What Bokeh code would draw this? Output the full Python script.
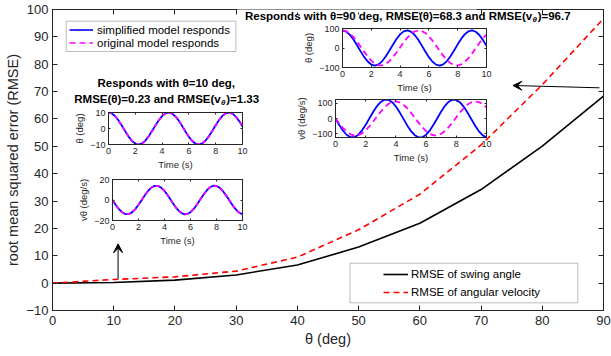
from bokeh.plotting import figure
from bokeh.models import (Range1d, LinearAxis, FixedTicker, Legend, LegendItem, Label,
                          Arrow, VeeHead, BoxAnnotation, Column)
from bokeh.embed import file_html
from bokeh.resources import INLINE

# ---------------- main chart data ----------------
theta_deg = [0, 10, 20, 30, 40, 50, 60, 70, 80, 90]
rmse_angle = [0.0, 0.23, 1.1, 3.0, 6.6, 13.2, 21.9, 34.2, 50.1, 68.3]
rmse_velocity = [0.0, 1.33, 2.3, 4.4, 9.5, 19.5, 32.5, 50.5, 72.5, 96.7]
x_ticks = [0, 10, 20, 30, 40, 50, 60, 70, 80, 90]
y_ticks = [-10, 0, 10, 20, 30, 40, 50, 60, 70, 80, 90, 100]

# ---------------- inset data (responses over time) ----------------
time_s = [0.0, 0.25, 0.5, 0.75, 1.0, 1.25, 1.5, 1.75, 2.0, 2.25, 2.5, 2.75, 3.0, 3.25,
          3.5, 3.75, 4.0, 4.25, 4.5, 4.75, 5.0, 5.25, 5.5, 5.75, 6.0, 6.25, 6.5, 6.75,
          7.0, 7.25, 7.5, 7.75, 8.0, 8.25, 8.5, 8.75, 9.0, 9.25, 9.5, 9.75, 10.0]
theta10_simplified = [10.0, 9.39, 7.65, 4.97, 1.69, -1.79, -5.06, -7.71, -9.43, -10.0, -9.36,
                      -7.58, -4.89, -1.60, 1.89, 5.14, 7.77, 9.46, 10.0, 9.33, 7.52, 4.80,
                      1.50, -1.98, -5.23, -7.83, -9.49, -10.0, -9.29, -7.46, -4.72, -1.41,
                      2.08, 5.31, 7.89, 9.52, 9.99, 9.25, 7.39, 4.63, 1.31]
theta10_original = [10.0, 9.39, 7.66, 4.99, 1.71, -1.76, -5.02, -7.68, -9.41, -10.0, -9.38,
                    -7.63, -4.95, -1.68, 1.81, 5.06, 7.71, 9.43, 10.0, 9.37, 7.60, 4.91,
                    1.63, -1.84, -5.10, -7.74, -9.44, -10.0, -9.35, -7.57, -4.88, -1.60,
                    1.89, 5.13, 7.77, 9.46, 10.0, 9.34, 7.55, 4.84, 1.55]
vel10_simplified = [0.0, -4.8, -9.0, -12.2, -13.8, -13.8, -12.1, -8.9, -4.7, 0.1, 4.9, 9.1,
                    12.2, 13.8, 13.8, 12.0, 8.8, 4.6, -0.3, -5.1, -9.2, -12.3, -13.9, -13.7,
                    -11.9, -8.7, -4.4, 0.4, 5.2, 9.3, 12.4, 13.9, 13.7, 11.9, 8.6, 4.3, -0.5,
                    -5.3, -9.4, -12.4, -13.9]
vel10_original = [0.0, -4.8, -9.0, -12.2, -13.8, -13.8, -12.1, -8.9, -4.6, 0.2, 5.0, 9.2,
                  12.3, 13.8, 13.8, 11.9, 8.7, 4.4, -0.5, -5.2, -9.3, -12.4, -13.8, -13.7,
                  -11.8, -8.5, -4.2, 0.6, 5.4, 9.5, 12.5, 13.9, 13.6, 11.8, 8.4, 4.0, -0.8,
                  -5.6, -9.6, -12.6, -13.9]
theta90_simplified = [90.0, 84.5, 68.8, 44.7, 15.2, -16.1, -45.5, -69.4, -84.8, -90.0, -84.2,
                      -68.3, -44.0, -14.4, 17.0, 46.3, 69.9, 85.1, 90.0, 83.9, 67.7, 43.2,
                      13.5, -17.8, -47.0, -70.5, -85.4, -90.0, -83.6, -67.1, -42.4, -12.6,
                      18.7, 47.8, 71.0, 85.7, 89.9, 83.3, 66.5, 41.7, 11.8]
theta90_original = [90.0, 86.1, 74.6, 56.6, 33.7, 7.8, -18.7, -43.6, -64.7, -80.2, -88.6,
                    -89.3, -82.2, -67.9, -47.7, -23.3, 3.1, 29.3, 52.9, 71.9, 84.6, 89.9,
                    87.3, 77.1, 60.2, 38.0, 12.5, -14.1, -39.5, -61.4, -77.9, -87.7, -89.8,
                    -84.0, -70.9, -51.6, -27.8, -1.6, 24.8, 49.0, 68.9]
vel90_simplified = [0.0, -43.3, -81.3, -109.4, -124.3, -124.1, -108.8, -80.3, -42.1, 1.2,
                    44.4, 82.2, 110.0, 124.5, 123.8, 108.2, 79.4, 40.9, -2.5, -45.6, -83.1,
                    -110.6, -124.7, -123.6, -107.5, -78.4, -39.8, 3.7, 46.7, 84.0, 111.2,
                    124.9, 123.4, 106.9, 77.5, 38.6, -4.9, -47.9, -85.0, -111.8, -125.0]
vel90_original = [0.0, -33.0, -63.2, -87.8, -104.8, -112.6, -110.5, -98.8, -78.5, -51.3,
                  -19.6, 13.8, 46.0, 74.1, 95.8, 109.1, 112.9, 106.8, 91.4, 68.0, 38.6, 5.9,
                  -27.3, -58.2, -84.0, -102.4, -111.9, -111.6, -101.6, -82.6, -56.5, -25.4,
                  7.9, 40.5, 69.6, 92.6, 107.5, 113.0, 108.6, 94.8, 72.6]
time_ticks = [0, 2, 4, 6, 8, 10]
theta10_ticks = [-10, 0, 10]
vel10_ticks = [-20, 0, 20]
big_ticks = [-100, 0, 100]

FONT = "Liberation Sans"
AX = "#262626"
BLUE = "#0000FF"
MAGENTA = "#FF00FF"

# main frame position on the page (px)
FL, FR, FT, FB = 52, 604, 9, 310
W, H = 611, 356
X0, X1, Y0, Y1 = 0, 90, -10, 100


def dx(px):
    return X0 + (px - FL) * (X1 - X0) / (FR - FL)


def dy(py):
    return Y1 - (py - FT) * (Y1 - Y0) / (FB - FT)


def style_axis(ax, size, lsize, tick_in, standoff, lstandoff):
    ax.axis_line_color = AX
    ax.major_tick_line_color = AX
    ax.major_tick_in = tick_in
    ax.major_tick_out = 0
    ax.minor_tick_line_color = None
    ax.major_label_text_font = FONT
    ax.major_label_text_font_size = size
    ax.major_label_text_color = AX
    ax.major_label_standoff = standoff
    ax.axis_label_text_font = FONT
    ax.axis_label_text_font_size = lsize
    ax.axis_label_text_font_style = "normal"
    ax.axis_label_text_color = AX
    ax.axis_label_standoff = lstandoff


def ghost_axis(ticks, tick_in):
    # tick marks only (box-style axes on top / right), labels not drawn
    return LinearAxis(ticker=FixedTicker(ticks=ticks), major_label_text_font_size="1px",
                      major_label_text_color=None, major_label_standoff=0,
                      major_tick_in=tick_in, major_tick_out=0,
                      minor_tick_line_color=None, axis_line_color=AX,
                      major_tick_line_color=AX)


# ---------------- main figure ----------------
p = figure(width=W, height=H, x_range=Range1d(X0, X1), y_range=Range1d(Y0, Y1),
           output_backend="svg", toolbar_location=None,
           min_border_left=FL, min_border_right=W - FR,
           min_border_top=FT, min_border_bottom=H - FB)
p.xgrid.visible = False
p.ygrid.visible = False
p.outline_line_color = AX
p.background_fill_color = "white"
p.border_fill_color = "white"
p.xaxis.ticker = FixedTicker(ticks=x_ticks)
p.yaxis.ticker = FixedTicker(ticks=y_ticks)
p.xaxis.axis_label = "θ (deg)"
p.yaxis.axis_label = "root mean squared error (RMSE)"
style_axis(p.xaxis[0], "13px", "14.5px", 5, 5, 3)
style_axis(p.yaxis[0], "13px", "14.5px", 5, 4, 2)
p.add_layout(ghost_axis(x_ticks, 5), "above")
p.add_layout(ghost_axis(y_ticks, 5), "right")

r_angle = p.line(theta_deg, rmse_angle, line_color="black", line_width=1.6)
r_vel = p.line(theta_deg, rmse_velocity, line_color="#FF0000", line_width=1.6,
               line_dash="6 4")

# legend proxies for the inset series (single NaN point, nothing drawn in the frame)
proxy_s = p.line(x=[float("nan")], y=[float("nan")], line_color=BLUE, line_width=1.6)
proxy_o = p.line(x=[float("nan")], y=[float("nan")], line_color=MAGENTA, line_width=1.6,
                 line_dash="6 4")

# white patch where the inset title image covers the top border in the original
p.add_layout(BoxAnnotation(left=dx(237), right=dx(477), top=dy(5), bottom=dy(12),
                           fill_color="white", fill_alpha=1, line_color=None))

box_a = BoxAnnotation(left=dx(65.7), right=dx(235.7), top=dy(20.7), bottom=dy(51),
                      fill_color="white", fill_alpha=1, line_color=AX, line_width=1)
box_b = BoxAnnotation(left=dx(350), right=dx(578.3), top=dy(262.7), bottom=dy(302.3),
                      fill_color="white", fill_alpha=1, line_color=AX, line_width=1)
p.add_layout(box_a)
p.add_layout(box_b)

leg_a = Legend(items=[LegendItem(label="simplified model responds", renderers=[proxy_s]),
                      LegendItem(label="original model responds", renderers=[proxy_o])],
               location=(69 - FL, round(FB - 48.8)), padding=0, spacing=0, margin=0,
               glyph_width=24, glyph_height=13, label_height=13, label_standoff=4,
               label_text_font=FONT, label_text_font_size="11.5px",
               label_text_color="black",
               border_line_alpha=0, background_fill_alpha=0)
leg_b = Legend(items=[LegendItem(label="RMSE of swing angle", renderers=[r_angle]),
                      LegendItem(label="RMSE of angular velocity", renderers=[r_vel])],
               location=(383 - FL, FB - 300), padding=0, spacing=2, margin=0,
               glyph_width=25, glyph_height=16, label_height=16, label_standoff=3,
               label_text_font=FONT, label_text_font_size="11.5px",
               label_text_color="black",
               border_line_alpha=0, background_fill_alpha=0)
p.add_layout(leg_a)
p.add_layout(leg_b)

# arrows
p.add_layout(Arrow(end=VeeHead(size=9, fill_color="black", line_color="black"),
                   x_start=dx(117.7), y_start=dy(278.3), x_end=dx(117.7), y_end=dy(243.3),
                   line_color="black", line_width=1))
p.add_layout(Arrow(end=VeeHead(size=9, fill_color="black", line_color="black"),
                   x_start=dx(600), y_start=dy(87.3), x_end=dx(513.3), y_end=dy(85),
                   line_color="black", line_width=1))


def title_parts(cx, cy, head, sub_tail, total_em, head_em):
    size = 11.5
    start = cx - total_em * size / 2
    xs = start + head_em * size
    p.add_layout(Label(x=dx(xs), y=dy(cy), text=head, text_align="right",
                       text_baseline="middle", text_font=FONT, text_font_size="11.5px",
                       text_font_style="bold", text_color="black"))
    p.add_layout(Label(x=dx(xs + 0.3), y=dy(cy + 4), text="θ", text_align="left",
                       text_baseline="middle", text_font=FONT, text_font_size="8px",
                       text_font_style="bold italic", text_color="black"))
    p.add_layout(Label(x=dx(xs + 5.5), y=dy(cy), text=sub_tail, text_align="left",
                       text_baseline="middle", text_font=FONT, text_font_size="11.5px",
                       text_font_style="bold", text_color="black"))


p.add_layout(Label(x=dx(166), y=dy(82), text="Responds with θ=10 deg,", text_align="center",
                   text_baseline="middle", text_font=FONT, text_font_size="11.5px",
                   text_font_style="bold", text_color="black"))
title_parts(166, 98, "RMSE(θ)=0.23 and RMSE(v", ")=1.33", 16.01, 12.747)
title_parts(407, 15, "Responds with θ=90 deg, RMSE(θ)=68.3 and RMSE(v", ")=96.7", 28.36, 25.095)


# ---------------- insets ----------------
def inset(page_fl, page_ft, fw, fh, bl, y_lo, y_hi, yticks, ylabel, ys, yo, dash):
    br, bt, bb = 8, 4, 28
    f = figure(width=bl + fw + br, height=bt + fh + bb, x_range=Range1d(0, 10),
               y_range=Range1d(y_lo, y_hi), output_backend="svg", toolbar_location=None,
               min_border_left=bl, min_border_right=br, min_border_top=bt,
               min_border_bottom=bb,
               styles={"position": "absolute", "left": f"{page_fl - bl}px",
                       "top": f"{page_ft - bt}px"})
    f.xgrid.visible = False
    f.ygrid.visible = False
    f.outline_line_color = AX
    f.background_fill_color = "white"
    f.border_fill_alpha = 0
    f.xaxis.ticker = FixedTicker(ticks=time_ticks)
    f.yaxis.ticker = FixedTicker(ticks=yticks)
    f.xaxis.axis_label = "Time (s)"
    f.yaxis.axis_label = ylabel
    style_axis(f.xaxis[0], "9px", "9.5px", 2, 3, 2)
    style_axis(f.yaxis[0], "9px", "9.5px", 2, 3, 2)
    f.add_layout(ghost_axis(time_ticks, 2), "above")
    f.add_layout(ghost_axis(yticks, 2), "right")
    f.line(time_s, ys, line_color=BLUE, line_width=1.8)
    f.line(time_s, yo, line_color=MAGENTA, line_width=1.8, line_dash=dash)
    return f


a1 = inset(90, 112, 152, 32, 34, -10, 10, theta10_ticks, "θ (deg)",
           theta10_simplified, theta10_original, "4 3")
a2 = inset(97, 179, 145, 41, 37, -20, 20, vel10_ticks, "vθ (deg/s)",
           vel10_simplified, vel10_original, "4 3")
b1 = inset(329, 28, 157, 39, 39, -100, 100, big_ticks, "θ (deg)",
           theta90_simplified, theta90_original, "6 4")
b2 = inset(322, 99, 164, 38, 39, -126, 126, big_ticks, "vθ (deg/s)",
           vel90_simplified, vel90_original, "6 4")

layout = Column(children=[p, a1, a2, b1, b2], styles={"position": "relative"})

open("out.html", "w").write(file_html(layout, INLINE))
